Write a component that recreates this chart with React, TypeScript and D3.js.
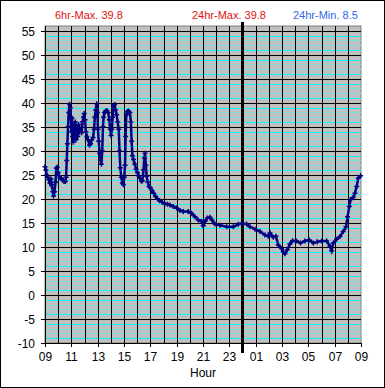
import * as d3 from "d3";

// hours after 09:00, temperature readings
const hours = [
    0, 0.06, 0.13, 0.2, 0.3, 0.38, 0.45, 0.52, 0.6, 0.65, 0.72, 0.8, 0.86, 0.93,
    1.0, 1.07, 1.15, 1.25, 1.35, 1.45, 1.55, 1.6, 1.65, 1.7, 1.75, 1.8, 1.86,
    1.92, 1.97, 2.0, 2.05, 2.1, 2.15, 2.2, 2.25, 2.3, 2.35, 2.42, 2.48, 2.55,
    2.62, 2.7, 2.78, 2.85, 2.92, 2.98, 3.04, 3.1, 3.18, 3.28, 3.38, 3.46, 3.55,
    3.65, 3.73, 3.78, 3.85, 3.92, 3.98, 4.02, 4.08, 4.15, 4.22, 4.28, 4.35, 4.4,
    4.45, 4.52, 4.6, 4.7, 4.8, 4.88, 4.95, 5.02, 5.08, 5.13, 5.2, 5.28, 5.36,
    5.44, 5.52, 5.6, 5.66, 5.72, 5.8, 5.88, 5.95, 6.02, 6.08, 6.12, 6.18, 6.25,
    6.35, 6.45, 6.52, 6.58, 6.64, 6.72, 6.82, 6.92, 7.02, 7.12, 7.22, 7.32, 7.4,
    7.48, 7.54, 7.6, 7.66, 7.72, 7.8, 7.9, 8.0, 8.12, 8.25, 8.4, 8.55, 8.7, 8.9,
    9.1, 9.3, 9.49, 9.75, 10.0, 10.25, 10.5, 10.88, 11.13, 11.39, 11.64, 11.9,
    12.02, 12.15, 12.33, 12.53, 12.68, 12.9, 13.29, 13.8, 14.3, 14.68, 14.93,
    15.31, 15.57, 15.95, 16.33, 16.71, 16.96, 17.09, 17.34, 17.54, 17.72, 17.97,
    18.1, 18.22, 18.4, 18.6, 18.8, 19.1, 19.41, 19.74, 20.07, 20.38, 20.68,
    21.01, 21.39, 21.64, 21.77, 21.9, 22.15, 22.4, 22.65, 22.86, 22.98, 23.11,
    23.21, 23.41, 23.54, 23.67, 23.79, 23.97,
];

const temps = [
    26.7, 26.0, 25.0, 24.5, 24.0, 23.3, 24.2, 23.0, 21.5, 20.6, 21.5, 23.5, 26.4,
    26.6, 25.5, 24.8, 24.4, 24.2, 23.9, 23.6, 23.6, 24.5, 28.0, 31.5, 35.0, 38.0,
    39.7, 39.0, 37.0, 34.0, 36.8, 33.0, 31.8, 35.5, 33.0, 36.0, 32.3, 34.8, 33.0,
    35.5, 34.0, 34.5, 33.8, 36.0, 37.0, 37.8, 36.5, 34.0, 33.0, 32.3, 31.2, 31.5,
    32.3, 32.8, 34.5, 37.0, 38.5, 39.8, 38.0, 34.5, 32.0, 29.5, 28.0, 27.2, 30.0,
    35.0, 37.0, 38.0, 38.3, 38.4, 38.0, 36.5, 34.5, 33.2, 34.5, 37.0, 39.3, 39.6,
    38.5, 37.5, 36.0, 34.5, 30.0, 26.5, 24.5, 23.3, 23.0, 24.5, 27.0, 33.0, 37.5,
    38.2, 38.3, 38.0, 36.0, 32.0, 29.0, 28.2, 27.2, 26.2, 25.5, 24.8, 24.3, 23.7,
    23.8, 26.0, 28.5, 29.5, 27.0, 24.7, 23.5, 22.6, 22.3, 21.8, 21.2, 20.5, 20.0,
    19.6, 19.3, 19.0, 18.9, 18.75, 18.4, 18.1, 17.6, 17.4, 17.4, 17.0, 16.3,
    15.6, 15.3, 14.4, 15.3, 16.0, 16.2, 15.6, 14.8, 14.5, 14.2, 14.2, 14.7, 14.9,
    14.8, 14.2, 13.7, 13.2, 12.5, 12.2, 12.9, 12.0, 12.2, 10.4, 9.7, 9.0, 8.6,
    9.4, 10.6, 11.3, 11.25, 10.8, 11.25, 11.45, 10.8, 11.1, 11.25, 11.25, 10.2,
    9.2, 10.8, 11.6, 12.15, 13.2, 14.2, 16.3, 18.4, 19.9, 20.3, 21.2, 22.6, 24.3,
    24.8,
];

const hourTicks = [0, 2, 4, 6, 8, 10, 12, 14, 16, 18, 20, 22, 24];
const hourLabels = ["09", "11", "13", "15", "17", "19", "21", "23", "01", "03", "05", "07", "09"];
const tempTicks = [55, 50, 45, 40, 35, 30, 25, 20, 15, 10, 5, 0, -10, -5];

const summaryLabels = ["6hr-Max. 39.8", "24hr-Max. 39.8", "24hr-Min. 8.5"];
const summaryColors = ["#e01010", "#e01010", "#3366ee"];

const WIDTH = 385;
const HEIGHT = 388;
const FONT = "'Liberation Sans', Arial, sans-serif";

export default function App() {
    const plot = { left: 45, right: 361, top: 26, bottom: 343 };

    const scaleX = d3.scaleLinear().domain([0, 24]).range([plot.left, plot.right]);
    const scaleY = d3.scaleLinear().domain([-10, 56]).range([plot.bottom, plot.top]);

    const points = hours.map((h, i) => [h, temps[i]] as [number, number]);
    const line = d3
        .line<[number, number]>()
        .x((d) => scaleX(d[0]))
        .y((d) => scaleY(d[1]));

    const minor = d3.range(-9, 56).filter((v) => v % 5 !== 0);
    const hourLines = d3.range(1, 24);

    return (
        <svg
            width={WIDTH}
            height={HEIGHT}
            style={{ position: "absolute", left: 0, top: 0, background: "white" }}
            fontFamily={FONT}
        >
            <rect x={0.5} y={0.5} width={WIDTH - 1} height={HEIGHT - 1} fill="white" stroke="black" />

            {summaryLabels.map((s, i) => (
                <text key={s} x={[55, 192, 293][i]} y={19} fontSize={11} fill={summaryColors[i]}>
                    {s}
                </text>
            ))}

            <rect
                x={plot.left}
                y={plot.top}
                width={plot.right - plot.left}
                height={plot.bottom - plot.top}
                fill="#c0c0c0"
                stroke="#808080"
            />

            {minor.map((v) => {
                const y = Math.round(scaleY(v)) + 0.5;
                const m = ((v % 5) + 5) % 5;
                return (
                    <line
                        key={`m${v}`}
                        x1={plot.left}
                        x2={plot.right}
                        y1={y}
                        y2={y}
                        stroke={m === 1 || m === 4 ? "#00ffff" : "#7fe0e0"}
                    />
                );
            })}

            {tempTicks.map((v) => {
                const y = Math.round(scaleY(v)) + 0.5;
                return (
                    <g key={`t${v}`}>
                        <line x1={plot.left - 4} x2={plot.right} y1={y} y2={y} stroke="black" />
                        <text x={35} y={y + 4.5} fontSize={12} textAnchor="end" fill="black">
                            {v}
                        </text>
                    </g>
                );
            })}

            {hourLines.map((h) => {
                const x = Math.round(scaleX(h)) + 0.5;
                return <line key={`h${h}`} x1={x} x2={x} y1={plot.top} y2={plot.bottom} stroke="black" />;
            })}

            {hourTicks.map((h, i) => {
                const x = Math.round(scaleX(h)) + 0.5;
                return (
                    <g key={`x${h}`}>
                        <line x1={x} x2={x} y1={plot.bottom} y2={plot.bottom + 4} stroke="black" />
                        <text x={x} y={361} fontSize={12} textAnchor="middle" fill="black">
                            {hourLabels[i]}
                        </text>
                    </g>
                );
            })}

            <line x1={plot.left + 0.5} x2={plot.left + 0.5} y1={plot.top} y2={plot.bottom} stroke="black" />

            {/* midnight marker */}
            <line
                x1={scaleX(15)}
                x2={scaleX(15)}
                y1={plot.top - 4}
                y2={plot.bottom + 10}
                stroke="black"
                strokeWidth={3}
            />

            <path d={line(points) || undefined} fill="none" stroke="#000080" strokeWidth={2.5} />
            {points.map((d, i) => {
                const x = scaleX(d[0]);
                const y = scaleY(d[1]);
                return (
                    <path
                        key={`p${i}`}
                        d={`M${x - 2.5},${y}h5M${x},${y - 2.5}v5`}
                        stroke="#000080"
                        strokeWidth={1.5}
                    />
                );
            })}

            <text x={(plot.left + plot.right) / 2} y={377} fontSize={12} textAnchor="middle" fill="black">
                Hour
            </text>
        </svg>
    );
}
